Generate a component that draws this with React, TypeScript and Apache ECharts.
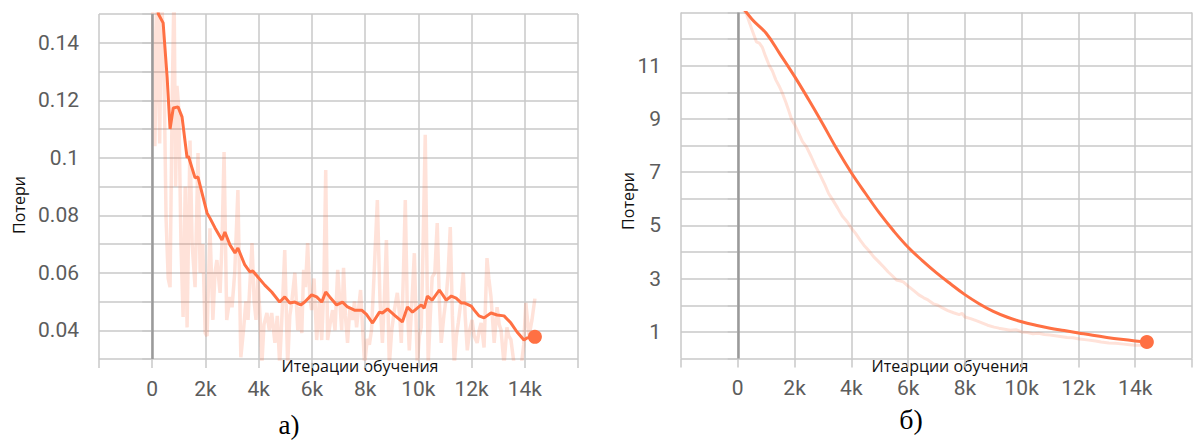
import React, { useEffect, useRef } from "react";
import * as echarts from "echarts";

// ---- Chart (а): loss, noisy ----
const rawIterA = [0,100,190,280,350,450,520,600,670,750,820,880,930,1000,1080,1160,1240,1310,1420,1500,1610,1720,1800,1900,1990,2060,2170,2280,2360,2430,2550,2620,2700,2800,2920,3000,3100,3220,3330,3440,3520,3600,3750,3830,3900,3970,4050,4120,4200,4310,4400,4490,4610,4700,4790,4900,4980,5090,5170,5240,5360,5470,5540,5620,5690,5760,5840,5920,5990,6080,6180,6280,6370,6450,6520,6590,6680,6780,6870,6970,7050,7120,7190,7260,7340,7430,7530,7600,7680,7760,7830,7910,7980,8080,8160,8240,8340,8460,8560,8650,8720,8800,8910,9000,9100,9210,9300,9360,9440,9510,9580,9660,9760,9850,9960,10040,10110,10180,10260,10370,10450,10520,10620,10710,10790,10860,10960,11050,11120,11200,11280,11350,11430,11500,11600,11690,11760,11840,11930,12020,12100,12210,12290,12360,12470,12580,12650,12730,12850,12960,13040,13110,13220,13330,13400,13480,13600,13720,13860,13960,14040,14160,14270,14380];
const rawLossA = [0.16,0.104,0.16,0.105,0.16,0.125,0.079,0.058,0.055,0.12,0.16,0.09,0.125,0.117,0.07,0.0446,0.09,0.041,0.106,0.07,0.055,0.1016,0.06,0.07,0.039,0.038,0.0755,0.0436,0.06,0.0644,0.053,0.07,0.102,0.0436,0.0516,0.048,0.06,0.0888,0.0306,0.041,0.05,0.0436,0.0703,0.05,0.0436,0.0585,0.045,0.028,0.042,0.046,0.04,0.046,0.0356,0.045,0.028,0.05,0.0679,0.028,0.045,0.0495,0.06,0.04,0.048,0.039,0.061,0.055,0.0703,0.052,0.047,0.058,0.0366,0.05,0.0366,0.055,0.0957,0.0366,0.042,0.047,0.04,0.061,0.05,0.04,0.0617,0.045,0.0356,0.048,0.0436,0.05,0.041,0.048,0.054,0.04,0.028,0.037,0.035,0.04,0.06,0.0853,0.05,0.0356,0.05,0.0714,0.028,0.04,0.047,0.053,0.045,0.0356,0.06,0.0853,0.05,0.033,0.05,0.0668,0.028,0.038,0.041,0.07,0.108,0.028,0.045,0.0585,0.06,0.0773,0.05,0.0356,0.045,0.0516,0.06,0.0759,0.045,0.028,0.038,0.0425,0.05,0.06,0.045,0.033,0.04,0.0436,0.038,0.0356,0.04,0.0425,0.034,0.0651,0.058,0.0516,0.0356,0.048,0.042,0.04,0.028,0.041,0.038,0.0367,0.028,0.026,0.027,0.035,0.0495,0.038,0.0436,0.051];
const smoothIterA = [0,230,410,560,670,790,970,1120,1310,1360,1610,1720,2060,2170,2360,2620,2730,2920,3110,3220,3480,3670,3780,3970,4230,4490,4790,4980,5170,5360,5580,5730,5990,6180,6370,6520,6670,6930,7150,7340,7600,7870,8050,8280,8540,8650,8840,9100,9400,9590,9780,10110,10220,10340,10520,10790,11050,11240,11420,11610,11720,11990,12100,12280,12470,12730,12960,13220,13480,13710,13970,14080,14380];
const smoothLossA = [0.175,0.15,0.1469,0.128,0.11,0.1173,0.1177,0.1142,0.1,0.1005,0.093,0.0933,0.0808,0.079,0.0756,0.0714,0.0742,0.0697,0.0669,0.0686,0.0627,0.0603,0.0606,0.0585,0.0557,0.0533,0.0498,0.0516,0.0495,0.0498,0.0488,0.0498,0.0523,0.0516,0.0498,0.0533,0.0516,0.0488,0.0498,0.0481,0.047,0.047,0.0455,0.0425,0.0463,0.046,0.0474,0.0453,0.0429,0.0481,0.0463,0.0488,0.0477,0.0519,0.0505,0.054,0.0505,0.0519,0.0512,0.0495,0.0495,0.0484,0.047,0.045,0.0443,0.046,0.0453,0.045,0.0425,0.0394,0.0366,0.0373,0.0377];

// ---- Chart (б): loss, smooth ----
const rawIterB = [0,300,500,655,760,860,980,1100,1220,1340,1450,1560,1690,1800,1900,2020,2140,2280,2420,2590,2750,2900,3070,3200,3350,3520,3680,3860,4000,4150,4310,4450,4620,4790,4950,5140,5300,5450,5590,5700,5830,6000,6200,6380,6550,6700,6900,7050,7210,7400,7600,7800,7900,8000,8200,8400,8600,8800,9030,9200,9400,9600,9800,10000,10200,10400,10600,10800,11000,11300,11600,11800,12030,12300,12600,12800,13070,13300,13600,13800,14000,14200,14400];
const rawLossB = [13.4,12.95,12.35,11.9,11.85,11.7,11.35,11.03,10.8,10.47,10.25,10.0,9.64,9.3,8.97,8.75,8.48,8.15,7.95,7.58,7.2,6.9,6.52,6.2,5.95,5.65,5.35,5.13,4.9,4.7,4.45,4.25,4.05,3.82,3.65,3.44,3.25,3.1,2.95,2.92,2.88,2.72,2.55,2.39,2.28,2.2,2.05,2.0,1.9,1.8,1.72,1.65,1.7,1.56,1.5,1.42,1.34,1.25,1.18,1.14,1.1,1.06,1.08,1.0,0.98,0.93,0.95,0.9,0.88,0.84,0.79,0.78,0.73,0.7,0.66,0.62,0.58,0.57,0.54,0.52,0.5,0.5,0.48];
const smoothIterB = [0,500,1000,1500,2000,2500,3000,3500,4000,4500,5000,5500,6000,6500,7000,7500,8000,8500,9000,9500,10000,10500,11000,11500,12000,12500,13000,13500,14000,14410];
const smoothLossB = [13.45,12.75,12.22,11.42,10.6,9.72,8.8,7.85,6.98,6.2,5.45,4.78,4.18,3.68,3.22,2.8,2.4,2.06,1.77,1.55,1.38,1.25,1.14,1.05,0.96,0.87,0.79,0.72,0.66,0.62];

const xTickLabels: Record<number, string> = { 0: "0", 2000: "2k", 4000: "4k", 6000: "6k", 8000: "8k", 10000: "10k", 12000: "12k", 14000: "14k" };
const yLabelsA = ["0.04", "0.06", "0.08", "0.1", "0.12", "0.14"];
const yLabelsB = ["1", "3", "5", "7", "9", "11"];
const xTitleA = "Итерации обучения";
const xTitleB = "Итеарции обучения";
const yTitle = "Потери";
const captions = ["а)", "б)"];

const ORANGE = "#ff7043";
const RAW = "rgba(255,112,67,0.2)";
const GRID = "#c8c8c8";
const LABEL = "#5c5c5c";

const zip = (a: number[], b: number[]) => a.map((v, i) => [v, b[i]]);

export default function App() {
  const ref = useRef<HTMLDivElement>(null);
  useEffect(() => {
    if (!ref.current) return;
    const chart = echarts.init(ref.current, undefined, { renderer: "svg" });
    const lineStyle = { color: GRID, width: 1.5 };
    const mkX = (gridIndex: number) => ({
      type: "value" as const,
      gridIndex,
      min: -2000,
      max: 16000,
      interval: 2000,
      axisLine: { show: false },
      axisTick: { show: true, inside: false, length: 9, lineStyle },
      splitLine: { show: true, lineStyle },
      axisLabel: {
        margin: 20,
        fontFamily: "Roboto",
        fontSize: 21,
        lineHeight: 19,
        color: LABEL,
        formatter: (v: number) => xTickLabels[Math.round(v)] ?? "",
      },
    });
    const mkY = (gridIndex: number, min: number, max: number, interval: number, labels: string[], fmt: (v: number) => string) => ({
      type: "value" as const,
      gridIndex,
      min,
      max,
      interval,
      axisLine: { show: false },
      axisTick: { show: true, inside: false, length: 10, lineStyle },
      splitLine: { show: true, lineStyle },
      axisLabel: {
        margin: 20,
        fontFamily: "Roboto",
        fontSize: 21,
        color: LABEL,
        formatter: (v: number) => {
          const s = fmt(v);
          return labels.includes(s) ? s : "";
        },
      },
    });
    const zeroLine = (xAxisIndex: number, yAxisIndex: number) => ({
      type: "line" as const,
      xAxisIndex,
      yAxisIndex,
      data: [],
      z: 1,
      silent: true,
      markLine: {
        silent: true,
        symbol: "none",
        label: { show: false },
        lineStyle: { color: "#9a9a9a", width: 2.5, type: "solid" },
        data: [{ xAxis: 0 }],
      },
    });
    const rawSeries = (xi: number, data: number[][], w: number) => ({
      type: "line" as const,
      xAxisIndex: xi,
      yAxisIndex: xi,
      data,
      showSymbol: false,
      symbol: "none",
      lineStyle: { color: RAW, width: w },
      z: 2,
    });
    const smoothSeries = (xi: number, data: number[][], smooth: number) => ({
      type: "line" as const,
      xAxisIndex: xi,
      yAxisIndex: xi,
      data,
      showSymbol: false,
      symbol: "none",
      smooth,
      lineStyle: { color: ORANGE, width: 3 },
      z: 3,
    });
    const dot = (xi: number, it: number[], ls: number[]) => ({
      type: "scatter" as const,
      xAxisIndex: xi,
      yAxisIndex: xi,
      data: [[it[it.length - 1], ls[ls.length - 1]]],
      symbolSize: 14,
      itemStyle: { color: ORANGE, opacity: 1 },
      z: 4,
    });
    const textStyleTitle = { fill: "#111", font: "16px 'Open Sans'", lineHeight: 15 };
    chart.setOption({
      animation: false,
      grid: [
        { left: 99, top: 14, width: 479, height: 345 },
        { left: 681, top: 12.5, width: 522, height: 346 },
      ],
      xAxis: [mkX(0), mkX(1)],
      yAxis: [
        mkY(0, 0.03, 0.15, 0.01, yLabelsA, (v) => String(Number(v.toFixed(2)))),
        mkY(1, 0, 13, 1, yLabelsB, (v) => String(Math.round(v))),
      ],
      series: [
        zeroLine(0, 0),
        rawSeries(0, zip(rawIterA, rawLossA), 3.5),
        smoothSeries(0, zip(smoothIterA, smoothLossA), 0),
        dot(0, smoothIterA, smoothLossA),
        zeroLine(1, 1),
        rawSeries(1, zip(rawIterB, rawLossB), 3),
        smoothSeries(1, zip(smoothIterB, smoothLossB), 0.4),
        dot(1, smoothIterB, smoothLossB),
      ],
      graphic: [
        { type: "text", x: 360, y: 366, style: { ...textStyleTitle, text: xTitleA, textAlign: "center", textVerticalAlign: "middle" } },
        { type: "text", x: 950, y: 366, style: { ...textStyleTitle, text: xTitleB, textAlign: "center", textVerticalAlign: "middle" } },
        { type: "text", x: 19, y: 205, rotation: Math.PI / 2, style: { ...textStyleTitle, text: yTitle, textAlign: "center", textVerticalAlign: "middle" } },
        { type: "text", x: 628, y: 201, rotation: Math.PI / 2, style: { ...textStyleTitle, text: yTitle, textAlign: "center", textVerticalAlign: "middle" } },
        { type: "text", x: 289, y: 425, style: { fill: "#000", font: "27px 'Liberation Serif'", lineHeight: 27, text: captions[0], textAlign: "center", textVerticalAlign: "middle" } },
        { type: "text", x: 911, y: 419, style: { fill: "#000", font: "28px 'Liberation Serif'", lineHeight: 28, text: captions[1], textAlign: "center", textVerticalAlign: "middle" } },
      ],
    });
    return () => chart.dispose();
  }, []);
  return <div ref={ref} style={{ position: "fixed", left: 0, top: 0, width: 1195, height: 441, background: "#fff" }} />;
}
